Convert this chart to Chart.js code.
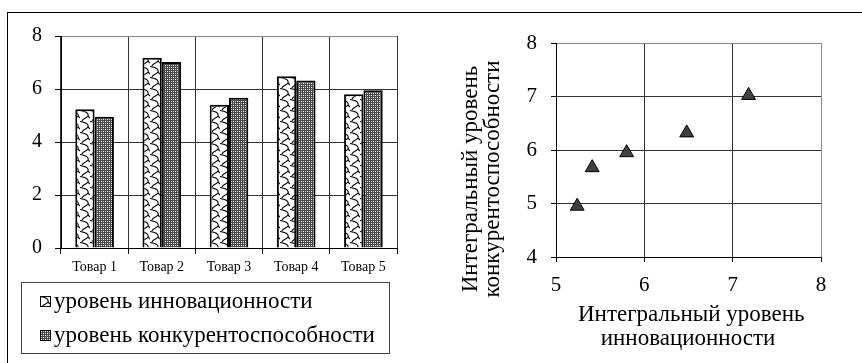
<!DOCTYPE html>
<html>
<head>
<meta charset="utf-8">
<script src="https://cdn.jsdelivr.net/npm/chart.js@4.4.1/dist/chart.umd.min.js"></script>
<style>
  html, body { margin: 0; padding: 0; background: #fff; }
  body { width: 862px; height: 363px; position: relative; overflow: hidden;
         font-family: "Liberation Serif", "Times New Roman", serif; color: #000; }
  .frame-top { position: absolute; left: 7px; top: 12px; width: 855px; height: 1px; background: #000; }
  .frame-left { position: absolute; left: 7px; top: 12px; width: 1px; height: 351px; background: #000; }
  canvas { position: absolute; }
  #bars { left: 0; top: 0; }
  #scatter { left: 420px; top: 0; }
  .legend { position: absolute; left: 21px; top: 282px; width: 367px; height: 70px;
            border: 1px solid #444; }
  .legend .row { position: absolute; left: 18px; height: 26px; display: flex; align-items: center;
                 font-size: 23px; white-space: nowrap; }
  .legend .row canvas { position: static; margin-right: 3px; }
  .ytitle { position: absolute; left: 481px; top: 179px; width: 280px; margin-left: -140px; margin-top: -22px;
            transform: rotate(-90deg); text-align: center; font-size: 23px; line-height: 22px; white-space: nowrap; }
  .xtitle { position: absolute; left: 578px; top: 302px; width: 220px; text-align: center;
            font-size: 23px; line-height: 24px; white-space: nowrap; }
</style>
</head>
<body>
<div class="frame-top"></div>
<div class="frame-left"></div>
<canvas id="bars" width="420" height="280"></canvas>
<canvas id="scatter" width="442" height="363"></canvas>
<div class="legend">
  <div class="row" style="top:5px"><canvas id="sw1" width="11" height="11"></canvas><span id="lg1"></span></div>
  <div class="row" style="top:39px"><canvas id="sw2" width="11" height="11"></canvas><span id="lg2"></span></div>
</div>
<div class="ytitle">Интегральный уровень<br>конкурентоспособности</div>
<div class="xtitle">Интегральный уровень<br>инновационности</div>
<script>
// Products and their two integral scores
const categories = ['Товар 1', 'Товар 2', 'Товар 3', 'Товар 4', 'Товар 5'];
const innovation = [5.24, 7.18, 5.41, 6.48, 5.80];
const competitiveness = [4.95, 7.02, 5.67, 6.32, 5.95];
const seriesNames = ['уровень инновационности', 'уровень конкурентоспособности'];
const barTicks = [0, 2, 4, 6, 8];
const scatterXTicks = [5, 6, 7, 8];
const scatterYTicks = [4, 5, 6, 7, 8];

const FONT = '"Liberation Serif", "Times New Roman", serif';

// Hatch fills: scalloped line pattern and a fine dotted mesh
function shinglePattern(ctx) {
  const t = document.createElement('canvas');
  t.width = 10; t.height = 11;
  const c = t.getContext('2d');
  c.fillStyle = '#fff'; c.fillRect(0, 0, 10, 11);
  c.strokeStyle = '#000'; c.lineWidth = 1.1;
  c.beginPath();
  c.moveTo(0, 0.5);
  c.bezierCurveTo(5, 1, 9, 3, 8, 6);
  c.bezierCurveTo(7, 8, 3, 8, 2, 11);
  c.stroke();
  c.beginPath();
  c.moveTo(8, 6); c.lineTo(10, 8);
  c.stroke();
  return ctx.createPattern(t, 'repeat');
}
function dotPattern(ctx) {
  const t = document.createElement('canvas');
  t.width = 4; t.height = 4;
  const c = t.getContext('2d');
  c.fillStyle = '#4a4a4a'; c.fillRect(0, 0, 4, 4);
  c.fillStyle = '#fff';
  c.fillRect(1, 1, 1, 1); c.fillRect(3, 3, 1, 1);
  c.fillStyle = '#c8c8c8';
  c.fillRect(3, 1, 1, 1); c.fillRect(1, 3, 1, 1);
  return ctx.createPattern(t, 'repeat');
}

const barCtx = document.getElementById('bars').getContext('2d');
const fillInno = shinglePattern(barCtx);
const fillComp = dotPattern(barCtx);

function edgeColor(isEdge) { return isEdge ? '#8a8a8a' : '#333'; }

new Chart(barCtx, {
  type: 'bar',
  data: {
    labels: categories,
    datasets: [
      { label: seriesNames[0], data: innovation, backgroundColor: fillInno,
        borderColor: '#000', borderWidth: 2, categoryPercentage: 0.575, barPercentage: 1 },
      { label: seriesNames[1], data: competitiveness, backgroundColor: fillComp,
        borderColor: '#000', borderWidth: 2, categoryPercentage: 0.575, barPercentage: 1 }
    ]
  },
  options: {
    responsive: false, animation: false, devicePixelRatio: 1,
    layout: { padding: { left: 0, right: 23, top: 36, bottom: 0 } },
    plugins: { legend: { display: false }, tooltip: { enabled: false } },
    scales: {
      x: {
        afterFit: s => { s.height = 32; },
        grid: { offset: true, color: c => edgeColor(c.index >= categories.length), tickColor: '#000', tickLength: 6 },
        border: { color: '#000', width: 1 },
        ticks: { color: '#000', font: { family: FONT, size: 14 }, padding: 5, maxRotation: 0 }
      },
      y: {
        min: barTicks[0], max: barTicks[barTicks.length - 1],
        afterFit: s => { s.width = 61; },
        afterBuildTicks: s => { s.ticks = barTicks.map(v => ({ value: v })); },
        grid: { color: c => edgeColor(c.tick && c.tick.value === 8), tickColor: '#000', tickLength: 6 },
        border: { color: '#000', width: 1 },
        ticks: { color: '#000', font: { family: FONT, size: 20 }, padding: 13 }
      }
    }
  }
});

// Legend swatches
[['sw1', 'lg1', shinglePattern, 0], ['sw2', 'lg2', dotPattern, 1]].forEach(([id, lid, fn, i]) => {
  const c = document.getElementById(id).getContext('2d');
  c.fillStyle = fn(c); c.fillRect(0, 0, 11, 11);
  c.strokeStyle = '#000'; c.lineWidth = 1; c.strokeRect(0.5, 0.5, 10, 10);
  document.getElementById(lid).textContent = seriesNames[i];
});

// Innovation vs competitiveness
const scCtx = document.getElementById('scatter').getContext('2d');
new Chart(scCtx, {
  type: 'scatter',
  data: {
    datasets: [{
      data: innovation.map((x, i) => ({ x, y: competitiveness[i] })),
      pointStyle: 'triangle', pointRadius: 8, pointHoverRadius: 8,
      backgroundColor: '#404040', borderColor: '#000', borderWidth: 1
    }]
  },
  options: {
    responsive: false, animation: false, devicePixelRatio: 1,
    layout: { padding: { left: 0, right: 41, top: 43, bottom: 0 } },
    plugins: { legend: { display: false }, tooltip: { enabled: false } },
    scales: {
      x: {
        min: 5, max: 8,
        afterFit: s => { s.height = 106; },
        afterBuildTicks: s => { s.ticks = scatterXTicks.map(v => ({ value: v })); },
        grid: { color: c => edgeColor(c.tick && c.tick.value === 8), tickColor: '#000', tickLength: 5 },
        border: { color: '#000', width: 1 },
        ticks: { color: '#000', font: { family: FONT, size: 21 }, padding: 11, maxRotation: 0 }
      },
      y: {
        min: 4, max: 8,
        afterFit: s => { s.width = 136; },
        afterBuildTicks: s => { s.ticks = scatterYTicks.map(v => ({ value: v })); },
        grid: { color: c => edgeColor(c.tick && c.tick.value === 8), tickColor: '#000', tickLength: 5 },
        border: { color: '#000', width: 1 },
        ticks: { color: '#000', font: { family: FONT, size: 21 }, padding: 14 }
      }
    }
  }
});
</script>
</body>
</html>
